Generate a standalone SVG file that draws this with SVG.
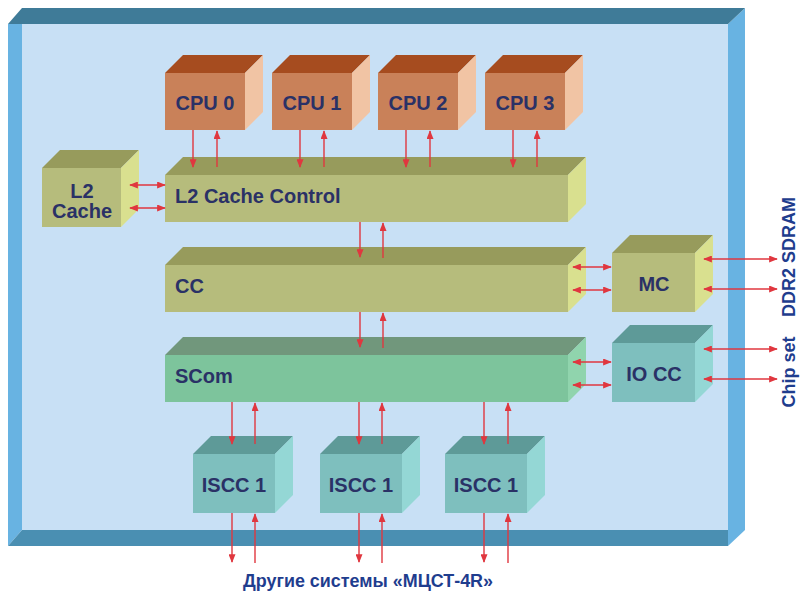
<svg xmlns="http://www.w3.org/2000/svg" width="800" height="593" viewBox="0 0 800 593">
<style>
text{font-family:"Liberation Sans",Arial,sans-serif;font-weight:bold;fill:#2a3166}
.lbl{font-size:20px}
.ext{font-size:18px;fill:#1f3d8e}
.a{stroke:#e0373f;stroke-width:1.4;fill:none}
.d{marker-end:url(#ah)}
.b{marker-start:url(#ah);marker-end:url(#ah)}
.cpuF{fill:#c98159}.cpuT{fill:#a64c1f}.cpuR{fill:#f1c4a4}
.olF{fill:#b6bc7c}.olT{fill:#979b5c}.olR{fill:#d9e08f}
.grF{fill:#7dc49c}.grT{fill:#71977c}.grR{fill:#90d4ad}
.tlF{fill:#7ebfbe}.tlT{fill:#5e9a98}.tlR{fill:#94d7d5}
</style>
<defs>
<marker id="ah" viewBox="0 0 10 8" markerWidth="9" markerHeight="7" refX="9" refY="4" orient="auto-start-reverse" markerUnits="userSpaceOnUse">
<path d="M0,0 L10,4 L0,8 z" fill="#e0373f"/>
</marker>
</defs>
<g id="frame">
<rect x="22" y="24" width="706" height="506" fill="#c8e0f5"/>
<polygon points="728,24 745,8 745,530 728,546" fill="#68b3e2"/>
<polygon points="8,24 22,24 22,530 8,546" fill="#68b3e2"/>
<polygon points="8,24 22,8 745,8 728,24" fill="#3f7b98"/>
<polygon points="22,530 728,530 728,546 8,546" fill="#4a8fb2"/>
</g>
<g id="cpu0">
<polygon class="cpuT" points="165,73 183,55 263,55 245,73"/>
<polygon class="cpuR" points="245,73 263,55 263,112 245,130"/>
<rect class="cpuF" x="165" y="73" width="80" height="57"/>
<text class="lbl" x="205" y="110" text-anchor="middle">CPU 0</text>
</g>
<g id="cpu1">
<polygon class="cpuT" points="272,73 290,55 370,55 352,73"/>
<polygon class="cpuR" points="352,73 370,55 370,112 352,130"/>
<rect class="cpuF" x="272" y="73" width="80" height="57"/>
<text class="lbl" x="312" y="110" text-anchor="middle">CPU 1</text>
</g>
<g id="cpu2">
<polygon class="cpuT" points="378,73 396,55 476,55 458,73"/>
<polygon class="cpuR" points="458,73 476,55 476,112 458,130"/>
<rect class="cpuF" x="378" y="73" width="80" height="57"/>
<text class="lbl" x="418" y="110" text-anchor="middle">CPU 2</text>
</g>
<g id="cpu3">
<polygon class="cpuT" points="485,73 503,55 583,55 565,73"/>
<polygon class="cpuR" points="565,73 583,55 583,112 565,130"/>
<rect class="cpuF" x="485" y="73" width="80" height="57"/>
<text class="lbl" x="525" y="110" text-anchor="middle">CPU 3</text>
</g>
<g id="l2cache">
<polygon class="olT" points="42,168 60,150 139,150 121,168"/>
<polygon class="olR" points="121,168 139,150 139,209 121,227"/>
<rect class="olF" x="42" y="168" width="79" height="59"/>
<text class="lbl" x="82" y="198" text-anchor="middle">L2</text>
<text class="lbl" x="82" y="218" text-anchor="middle">Cache</text>
</g>
<g id="l2cc">
<polygon class="olT" points="165,175 183,157 586,157 568,175"/>
<polygon class="olR" points="568,175 586,157 586,204 568,222"/>
<rect class="olF" x="165" y="175" width="403" height="47"/>
<text class="lbl" x="175" y="203">L2 Cache Control</text>
</g>
<g id="cc">
<polygon class="olT" points="165,265 183,247 586,247 568,265"/>
<polygon class="olR" points="568,265 586,247 586,294 568,312"/>
<rect class="olF" x="165" y="265" width="403" height="47"/>
<text class="lbl" x="175" y="293">CC</text>
</g>
<g id="mc">
<polygon class="olT" points="612,253 630,235 713,235 695,253"/>
<polygon class="olR" points="695,253 713,235 713,294 695,312"/>
<rect class="olF" x="612" y="253" width="83" height="59"/>
<text class="lbl" x="654" y="291" text-anchor="middle">MC</text>
</g>
<g id="scom">
<polygon class="grT" points="165,355 183,337 586,337 568,355"/>
<polygon class="grR" points="568,355 586,337 586,384 568,402"/>
<rect class="grF" x="165" y="355" width="403" height="47"/>
<text class="lbl" x="175" y="383">SCom</text>
</g>
<g id="iocc">
<polygon class="tlT" points="612,343 630,325 713,325 695,343"/>
<polygon class="tlR" points="695,343 713,325 713,384 695,402"/>
<rect class="tlF" x="612" y="343" width="83" height="59"/>
<text class="lbl" x="654" y="381" text-anchor="middle">IO CC</text>
</g>
<g id="iscc1">
<polygon class="tlT" points="193,454 211,436 293,436 275,454"/>
<polygon class="tlR" points="275,454 293,436 293,495 275,513"/>
<rect class="tlF" x="193" y="454" width="82" height="59"/>
<text class="lbl" x="234" y="492" text-anchor="middle">ISCC 1</text>
</g>
<g id="iscc2">
<polygon class="tlT" points="320,454 338,436 420,436 402,454"/>
<polygon class="tlR" points="402,454 420,436 420,495 402,513"/>
<rect class="tlF" x="320" y="454" width="82" height="59"/>
<text class="lbl" x="361" y="492" text-anchor="middle">ISCC 1</text>
</g>
<g id="iscc3">
<polygon class="tlT" points="445,454 463,436 545,436 527,454"/>
<polygon class="tlR" points="527,454 545,436 545,495 527,513"/>
<rect class="tlF" x="445" y="454" width="82" height="59"/>
<text class="lbl" x="486" y="492" text-anchor="middle">ISCC 1</text>
</g>
<g id="connectors">
<line class="a d" x1="193" y1="130" x2="193" y2="167"/>
<line class="a d" x1="217" y1="167" x2="217" y2="131"/>
<line class="a d" x1="300" y1="130" x2="300" y2="167"/>
<line class="a d" x1="324" y1="167" x2="324" y2="131"/>
<line class="a d" x1="406" y1="130" x2="406" y2="167"/>
<line class="a d" x1="430" y1="167" x2="430" y2="131"/>
<line class="a d" x1="513" y1="130" x2="513" y2="167"/>
<line class="a d" x1="537" y1="167" x2="537" y2="131"/>
<line class="a b" x1="130" y1="185" x2="165" y2="185"/>
<line class="a b" x1="130" y1="208" x2="165" y2="208"/>
<line class="a d" x1="360" y1="222" x2="360" y2="257"/>
<line class="a d" x1="383" y1="258" x2="383" y2="223"/>
<line class="a b" x1="573" y1="267" x2="611" y2="267"/>
<line class="a b" x1="573" y1="290" x2="611" y2="290"/>
<line class="a b" x1="704" y1="259" x2="777" y2="259"/>
<line class="a b" x1="704" y1="289" x2="777" y2="289"/>
<line class="a d" x1="360" y1="312" x2="360" y2="347"/>
<line class="a d" x1="383" y1="348" x2="383" y2="313"/>
<line class="a b" x1="573" y1="362" x2="611" y2="362"/>
<line class="a b" x1="573" y1="385" x2="611" y2="385"/>
<line class="a b" x1="704" y1="349" x2="777" y2="349"/>
<line class="a b" x1="704" y1="379" x2="777" y2="379"/>
<line class="a d" x1="232" y1="402" x2="232" y2="444"/>
<line class="a d" x1="255" y1="444" x2="255" y2="403"/>
<line class="a d" x1="359" y1="402" x2="359" y2="444"/>
<line class="a d" x1="382" y1="444" x2="382" y2="403"/>
<line class="a d" x1="484" y1="402" x2="484" y2="444"/>
<line class="a d" x1="508" y1="444" x2="508" y2="403"/>
<line class="a d" x1="232" y1="513" x2="232" y2="562"/>
<line class="a d" x1="255" y1="563" x2="255" y2="514"/>
<line class="a d" x1="359" y1="513" x2="359" y2="562"/>
<line class="a d" x1="382" y1="563" x2="382" y2="514"/>
<line class="a d" x1="484" y1="513" x2="484" y2="562"/>
<line class="a d" x1="508" y1="563" x2="508" y2="514"/>
</g>
<g id="labels">
<text class="ext" transform="translate(795,257) rotate(-90)" text-anchor="middle">DDR2 SDRAM</text>
<text class="ext" transform="translate(795,372) rotate(-90)" text-anchor="middle">Chip set</text>
<text class="ext" x="368" y="587" text-anchor="middle" font-size="17" textLength="250" lengthAdjust="spacingAndGlyphs">Другие системы «МЦСТ-4R»</text>
</g>
</svg>
